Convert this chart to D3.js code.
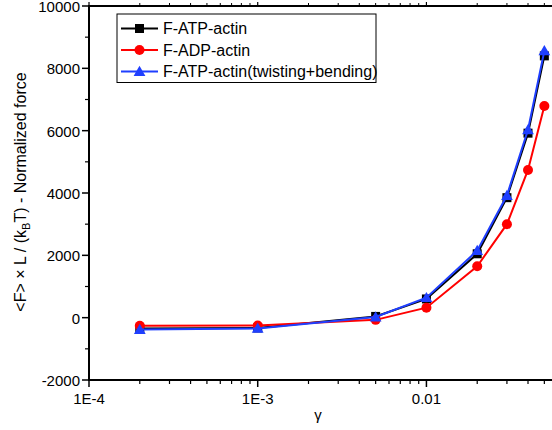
<!DOCTYPE html>
<html>
<head>
<meta charset="utf-8">
<script src="https://cdn.jsdelivr.net/npm/d3@7"></script>
<style>
  html, body { margin: 0; padding: 0; background: #fff; }
  svg { display: block; font-family: "Liberation Sans", Arial, sans-serif; }
</style>
</head>
<body>
<svg id="chart" width="552" height="430"></svg>
<script>
// Strain values (gamma) and normalized force for each filament model
const gamma = [2e-4, 1e-3, 5e-3, 0.01, 0.02, 0.03, 0.04, 0.05];
const atpActin = [-350, -330, 40, 600, 2050, 3850, 5920, 8400];
const adpActin = [-260, -250, -70, 320, 1650, 3000, 4740, 6790];
const atpTwistBend = [-380, -345, 20, 640, 2150, 3920, 6030, 8560];

const seriesNames = ["F-ATP-actin", "F-ADP-actin", "F-ATP-actin(twisting+bending)"];
const seriesColors = ["#000000", "#ff0000", "#1f3fff"];
const seriesShapes = ["square", "circle", "triangle"];

const xTickValues = [1e-4, 1e-3, 1e-2];
const xTickLabels = ["1E-4", "1E-3", "0.01"];
const yTickValues = [-2000, 0, 2000, 4000, 6000, 8000, 10000];

const svg = d3.select("#chart");
const plotLeft = 89, plotRight = 552, plotTop = 6, plotBottom = 380;

const x = d3.scaleLog().domain([1e-4, 0.0555]).range([plotLeft, plotRight]);
const y = d3.scaleLinear().domain([-2000, 10000]).range([plotBottom, plotTop]);

// minor log ticks 2..9 per decade
const minorX = [];
for (let d = 1e-4; d < 0.1; d *= 10) {
  for (let k = 2; k <= 9; k++) {
    const v = +(d * k).toPrecision(3);
    if (v <= 0.0555) minorX.push(v);
  }
}
const minorY = d3.range(-1000, 10000, 2000);

const axisColor = "#000";

// Bottom axis
const gx = svg.append("g").attr("transform", `translate(0,${plotBottom})`);
gx.append("line").attr("x1", plotLeft - 1).attr("x2", plotRight).attr("y1", 0).attr("y2", 0)
  .attr("stroke", axisColor).attr("stroke-width", 2);
gx.selectAll(".maj").data(xTickValues).join("line")
  .attr("x1", d => x(d)).attr("x2", d => x(d)).attr("y1", 0).attr("y2", 7)
  .attr("stroke", axisColor).attr("stroke-width", 1.5);
gx.selectAll(".min").data(minorX).join("line")
  .attr("x1", d => x(d)).attr("x2", d => x(d)).attr("y1", 0).attr("y2", 4)
  .attr("stroke", axisColor).attr("stroke-width", 1.2);
gx.selectAll("text").data(xTickValues).join("text")
  .attr("x", d => x(d)).attr("y", 24)
  .attr("text-anchor", "middle").attr("font-size", 15)
  .text((d, i) => xTickLabels[i]);

// Top axis (frame with ticks, no labels)
const gt = svg.append("g").attr("transform", `translate(0,${plotTop})`);
gt.append("line").attr("x1", plotLeft - 1).attr("x2", plotRight).attr("y1", 0).attr("y2", 0)
  .attr("stroke", axisColor).attr("stroke-width", 2);
gt.selectAll(".maj").data(xTickValues).join("line")
  .attr("x1", d => x(d)).attr("x2", d => x(d)).attr("y1", 0).attr("y2", -4)
  .attr("stroke", axisColor).attr("stroke-width", 1.2);
gt.selectAll(".min").data(minorX).join("line")
  .attr("x1", d => x(d)).attr("x2", d => x(d)).attr("y1", 0).attr("y2", -3)
  .attr("stroke", axisColor).attr("stroke-width", 1);

// Left axis
const gy = svg.append("g").attr("transform", `translate(${plotLeft},0)`);
gy.append("line").attr("x1", 0).attr("x2", 0).attr("y1", plotTop - 1).attr("y2", plotBottom + 1)
  .attr("stroke", axisColor).attr("stroke-width", 2);
gy.selectAll(".maj").data(yTickValues).join("line")
  .attr("x1", -7).attr("x2", 0).attr("y1", d => y(d)).attr("y2", d => y(d))
  .attr("stroke", axisColor).attr("stroke-width", 1.5);
gy.selectAll(".min").data(minorY).join("line")
  .attr("x1", -4).attr("x2", 0).attr("y1", d => y(d)).attr("y2", d => y(d))
  .attr("stroke", axisColor).attr("stroke-width", 1.2);
gy.selectAll("text").data(yTickValues).join("text")
  .attr("x", -9).attr("y", d => y(d) + 0.5).attr("dy", "0.36em")
  .attr("text-anchor", "end").attr("font-size", 15)
  .text(d => d);

// Axis titles
svg.append("text").attr("x", 318).attr("y", 420).attr("text-anchor", "middle")
  .attr("font-size", 15).text("γ");

const yTitle = svg.append("text")
  .attr("transform", "translate(26,192) rotate(-90)")
  .attr("text-anchor", "middle").attr("font-size", 16);
yTitle.append("tspan").text("<F> × L / (k");
yTitle.append("tspan").attr("font-size", 11).attr("dy", 4).text("B");
yTitle.append("tspan").attr("dy", -4).text("T) - Normalized force");

// Marker drawing
function drawMarker(g, shape, color, cx, cy) {
  if (shape === "square") {
    g.append("rect").attr("x", cx - 4.5).attr("y", cy - 4.5).attr("width", 9).attr("height", 9)
      .attr("fill", color);
  } else if (shape === "circle") {
    g.append("circle").attr("cx", cx).attr("cy", cy).attr("r", 5).attr("fill", color);
  } else {
    g.append("path").attr("d", d3.symbol().type(d3.symbolTriangle).size(60)())
      .attr("transform", `translate(${cx},${cy + 1})`).attr("fill", color);
  }
}

const allSeries = [atpActin, adpActin, atpTwistBend];
const line = d3.line().x(d => x(d[0])).y(d => y(d[1]));

allSeries.forEach((vals, i) => {
  const pts = gamma.map((g, j) => [g, vals[j]]);
  const g = svg.append("g");
  g.append("path").datum(pts).attr("d", line)
    .attr("fill", "none").attr("stroke", seriesColors[i]).attr("stroke-width", 2);
  pts.forEach(p => drawMarker(g, seriesShapes[i], seriesColors[i], x(p[0]), y(p[1])));
});

// Legend
const leg = svg.append("g");
leg.append("rect").attr("x", 117).attr("y", 14).attr("width", 259).attr("height", 68.5)
  .attr("fill", "#fff").attr("stroke", "#000").attr("stroke-width", 1);
const rowY = [28.5, 50, 71.5];
seriesNames.forEach((name, i) => {
  leg.append("line").attr("x1", 121).attr("x2", 158).attr("y1", rowY[i]).attr("y2", rowY[i])
    .attr("stroke", seriesColors[i]).attr("stroke-width", 2);
  drawMarker(leg, seriesShapes[i], seriesColors[i], 139.5, rowY[i]);
  leg.append("text").attr("x", 163).attr("y", rowY[i]).attr("dy", "0.36em")
    .attr("font-size", 16).text(name);
});
</script>
</body>
</html>
